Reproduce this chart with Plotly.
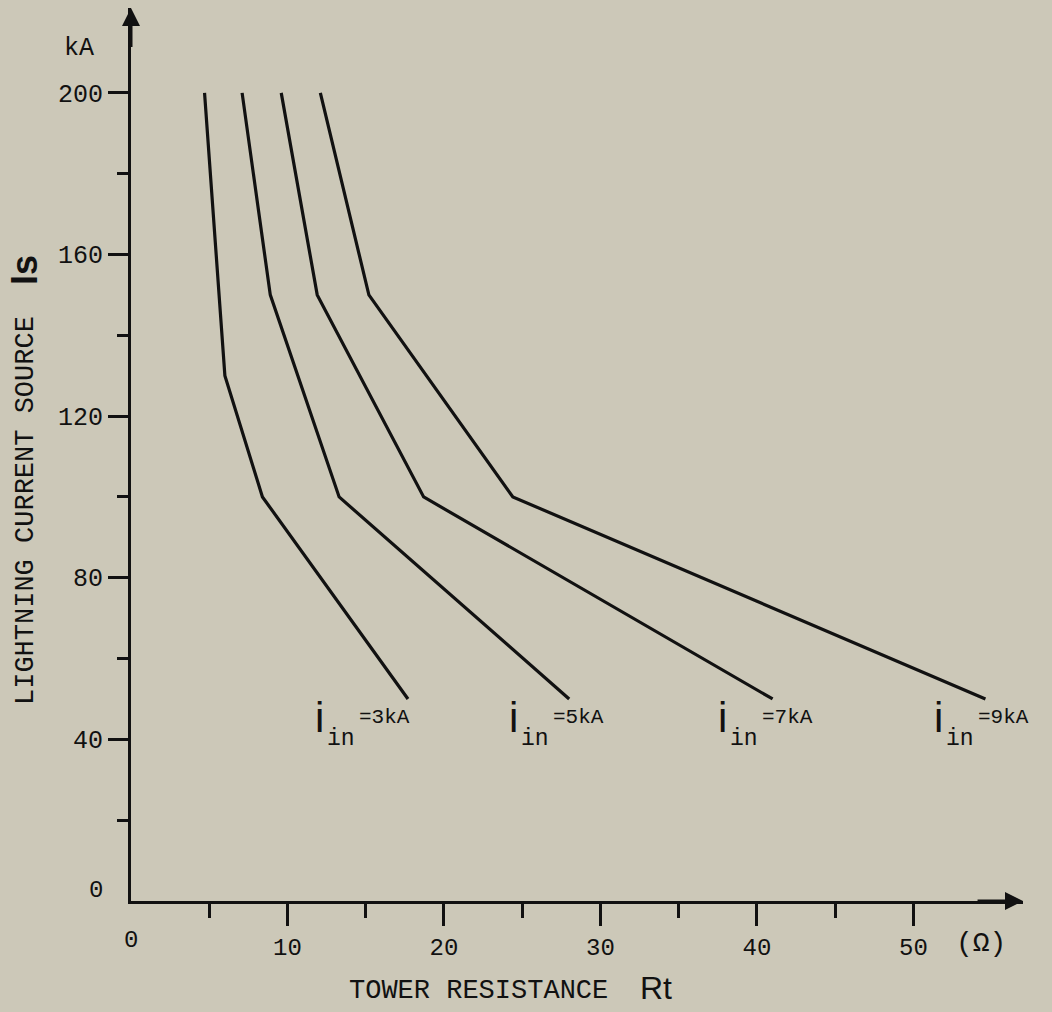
import plotly.graph_objects as go

# ---- data ----
series_names = ["3kA", "5kA", "7kA", "9kA"]
rt_3ka = [4.7, 6.0, 8.4, 17.7]
is_3ka = [200, 130, 100, 50]
rt_5ka = [7.1, 8.9, 13.3, 28.0]
is_5ka = [200, 150, 100, 50]
rt_7ka = [9.6, 11.9, 18.7, 41.0]
is_7ka = [200, 150, 100, 50]
rt_9ka = [12.1, 15.2, 24.4, 54.6]
is_9ka = [200, 150, 100, 50]

x_major_ticks = [10, 20, 30, 40, 50]
x_minor_ticks = [5, 15, 25, 35, 45]
y_major_ticks = [40, 80, 120, 160, 200]
y_minor_ticks = [20, 60, 100, 140, 180]

# label anchor (data units) for the "i_in = ..." captions
label_x = [11.6, 24.0, 37.4, 51.2]
label_y = 41

BG = "#ccc8b8"
INK = "#111111"
MONO = "Liberation Mono, Courier New, monospace"
SANS = "Liberation Sans, Arial, sans-serif"

xs = [rt_3ka, rt_5ka, rt_7ka, rt_9ka]
ys = [is_3ka, is_5ka, is_7ka, is_9ka]

fig = go.Figure()
for name, x, y in zip(series_names, xs, ys):
    fig.add_trace(go.Scatter(x=x, y=y, mode="lines", name=name,
                             line=dict(color=INK, width=3.2),
                             showlegend=False, hoverinfo="skip"))

X_MAX = 57.0
Y_MAX = 221.0

annotations = []
# axis arrows
annotations.append(dict(x=X_MAX, y=0, ax=X_MAX - 3, ay=0, xref="x", yref="y",
                        axref="x", ayref="y", showarrow=True, arrowhead=2,
                        arrowsize=1.2, arrowwidth=3, arrowcolor=INK, text=""))
annotations.append(dict(x=0, y=Y_MAX, ax=0, ay=Y_MAX - 10, xref="x", yref="y",
                        axref="x", ayref="y", showarrow=True, arrowhead=2,
                        arrowsize=1.2, arrowwidth=3, arrowcolor=INK, text=""))

# zero labels
annotations.append(dict(x=0, y=0, xref="x", yref="y", text="0", showarrow=False,
                        font=dict(family=MONO, size=24, color=INK),
                        xanchor="center", yanchor="top", yshift=-24))
annotations.append(dict(x=0, y=0, xref="x", yref="y", text="0", showarrow=False,
                        font=dict(family=MONO, size=24, color=INK),
                        xanchor="right", yanchor="middle", xshift=-26, yshift=11))

def P(px, py):
    """pixel position -> paper coordinates"""
    return (px - 131) / 892.0, (901 - py) / 893.0

# kA unit
kx, ky = P(79, 48)
annotations.append(dict(x=kx, y=ky, xref="paper", yref="paper", text="kA", showarrow=False,
                        font=dict(family=MONO, size=25, color=INK),
                        xanchor="center", yanchor="middle"))
# y title
tx, ty = P(26, 511)
annotations.append(dict(x=tx, y=ty, xref="paper", yref="paper",
                        text="LIGHTNING CURRENT SOURCE", showarrow=False,
                        textangle=-90, font=dict(family=MONO, size=27, color=INK),
                        xanchor="center", yanchor="middle"))
ix, iy = P(24, 270)
annotations.append(dict(x=ix, y=iy, xref="paper", yref="paper", text="<b>Is</b>",
                        showarrow=False, textangle=-90,
                        font=dict(family=SANS, size=36, color=INK),
                        xanchor="center", yanchor="middle"))
# x title
bx, by = P(478, 991)
annotations.append(dict(x=bx, y=by, xref="paper", yref="paper", text="TOWER RESISTANCE",
                        showarrow=False, font=dict(family=MONO, size=27, color=INK),
                        xanchor="center", yanchor="middle"))
rx, ry = P(656, 988)
annotations.append(dict(x=rx, y=ry, xref="paper", yref="paper", text="Rt",
                        showarrow=False, font=dict(family=SANS, size=32, color=INK),
                        xanchor="center", yanchor="middle"))
ox, oy = P(981, 943)
annotations.append(dict(x=ox, y=oy, xref="paper", yref="paper", text="(Ω)",
                        showarrow=False, font=dict(family=MONO, size=28, color=INK),
                        xanchor="center", yanchor="middle"))

# curve captions
for name, lx in zip(series_names, label_x):
    annotations.append(dict(x=lx, y=label_y, xref="x", yref="y", text="i",
                            showarrow=False, font=dict(family=SANS, size=42, color=INK),
                            xanchor="left", yanchor="bottom", yshift=-8))
    annotations.append(dict(x=lx, y=label_y, xref="x", yref="y", text="in",
                            showarrow=False, font=dict(family=MONO, size=23, color=INK),
                            xanchor="left", yanchor="middle", xshift=12, yshift=-4))
    annotations.append(dict(x=lx, y=label_y, xref="x", yref="y", text="=" + name,
                            showarrow=False, font=dict(family=MONO, size=21, color=INK),
                            xanchor="left", yanchor="middle", xshift=44, yshift=18))

fig.update_layout(
    width=1052, height=1012,
    margin=dict(l=131, r=29, t=8, b=111),
    paper_bgcolor=BG, plot_bgcolor=BG,
    annotations=annotations,
    xaxis=dict(range=[0, X_MAX], showgrid=False, zeroline=False,
               showline=True, linecolor=INK, linewidth=3,
               tickmode="array", tickvals=x_major_ticks,
               ticktext=[str(v) for v in x_major_ticks],
               ticks="outside", ticklen=22, tickwidth=3, tickcolor=INK,
               tickfont=dict(family=MONO, size=24, color=INK),
               minor=dict(tickmode="array", tickvals=x_minor_ticks, ticks="outside",
                          ticklen=14, tickwidth=3, tickcolor=INK, showgrid=False)),
    yaxis=dict(range=[0, Y_MAX], showgrid=False, zeroline=False,
               showline=True, linecolor=INK, linewidth=3,
               tickmode="array", tickvals=y_major_ticks,
               ticktext=[str(v) for v in y_major_ticks],
               ticks="outside", ticklen=20, tickwidth=3, tickcolor=INK,
               tickfont=dict(family=MONO, size=25, color=INK),
               minor=dict(tickmode="array", tickvals=y_minor_ticks, ticks="outside",
                          ticklen=11, tickwidth=3, tickcolor=INK, showgrid=False)),
)

fig.write_html("out.html")
